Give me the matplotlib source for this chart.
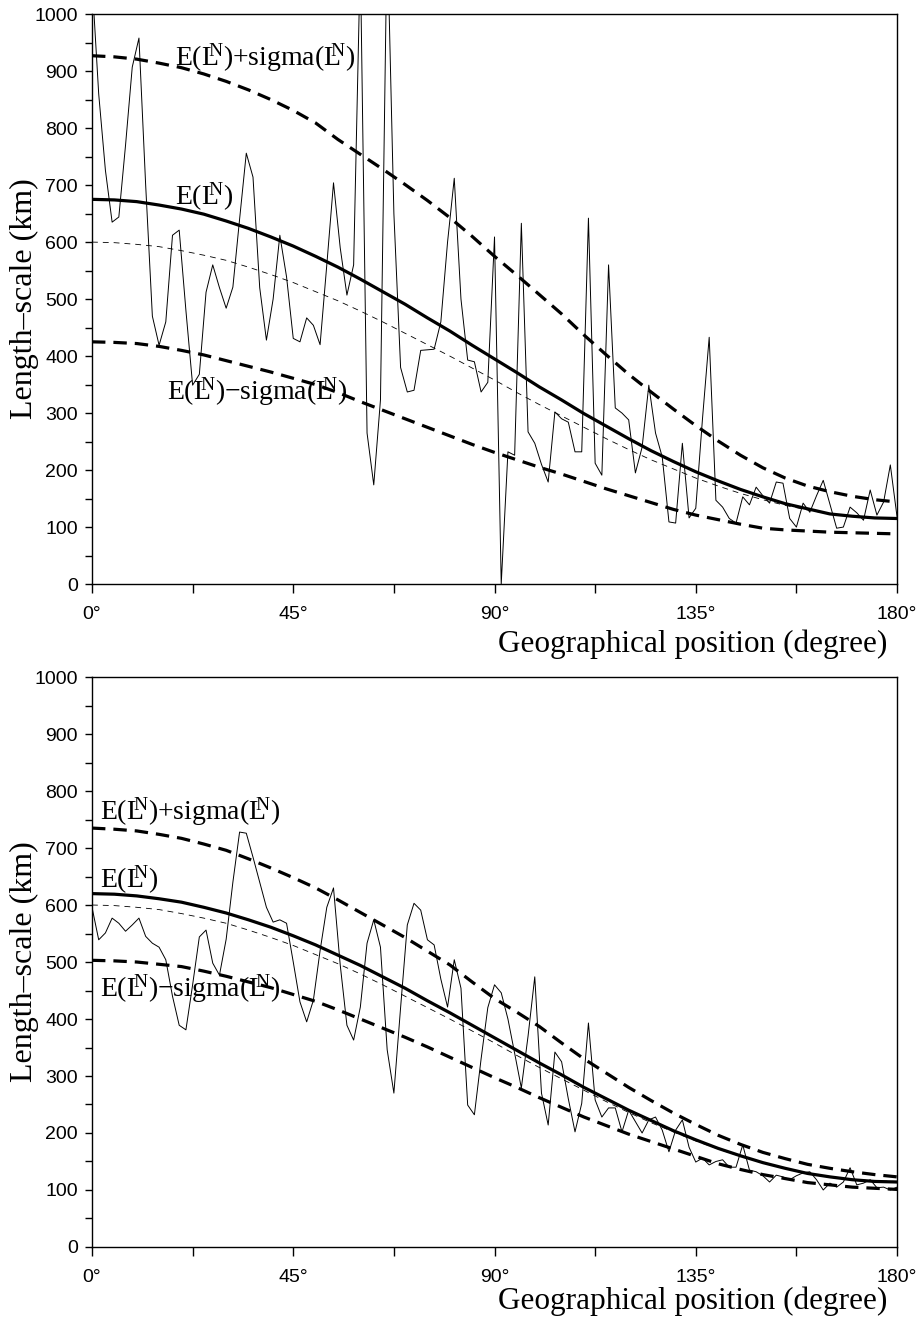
import numpy as np
import matplotlib
matplotlib.use('Agg')
import matplotlib.pyplot as plt

plt.rcParams['font.family'] = ['Liberation Sans', 'DejaVu Sans']
plt.rcParams['mathtext.fontset'] = 'custom'
plt.rcParams['mathtext.rm'] = 'Liberation Serif'
plt.rcParams['mathtext.it'] = 'Liberation Serif:italic'

# smooth curves, read every 5 degrees
deg_curve = np.arange(0, 181, 5)

top_mean = [675, 674, 671, 665, 658, 649, 637, 624, 609, 593, 575, 556, 535, 513, 491, 467, 444, 419, 395,
            371, 346, 323, 299, 277, 255, 234, 215, 197, 181, 166, 153, 141, 132, 123, 119, 116, 115]
top_upper = [927, 925, 921, 914, 906, 895, 882, 867, 850, 831, 809, 780, 754, 728, 701, 673, 643, 610, 575,
             542, 508, 474, 437, 402, 368, 337, 307, 278, 251, 226, 204, 186, 172, 162, 154, 148, 144]
top_lower = [425, 424, 422, 417, 410, 402, 392, 382, 372, 361, 350, 336, 320, 305, 290, 275, 260, 245, 231,
             218, 205, 193, 180, 167, 155, 143, 131, 121, 113, 105, 98, 95, 93, 91, 90, 89, 88]
top_true = [600, 599, 596, 592, 585, 577, 568, 556, 543, 529, 513, 497, 479, 460, 440, 420, 400, 379, 358,
            336, 315, 295, 275, 255, 236, 218, 202, 186, 172, 159, 148, 138, 130, 123, 119, 116, 115]

bot_mean = [620, 619, 616, 611, 605, 596, 586, 574, 561, 546, 530, 512, 494, 474, 454, 432, 411, 389, 367,
            345, 323, 302, 280, 260, 240, 222, 204, 188, 173, 160, 148, 138, 129, 123, 118, 115, 114]
bot_upper = [735, 733, 730, 724, 717, 707, 696, 681, 665, 648, 630, 609, 587, 565, 543, 519, 495, 465, 436,
             412, 387, 358, 330, 305, 280, 257, 235, 215, 196, 180, 166, 155, 145, 138, 132, 127, 123]
bot_lower = [503, 502, 500, 496, 492, 484, 475, 465, 455, 443, 431, 416, 400, 384, 368, 351, 333, 315, 297,
             280, 262, 245, 228, 213, 198, 185, 172, 159, 146, 136, 127, 120, 113, 109, 105, 103, 101]
bot_true = top_true

# noisy estimates, one value every 1.5 degrees
deg_noisy = np.arange(0, 180.1, 1.5)

top_noisy = [1060, 860, 726, 635, 644, 770, 907, 958, 700, 470,
             419, 460, 612, 621, 480, 349, 368, 512, 560, 520,
             484, 521, 640, 756, 714, 520, 428, 500, 612, 539,
             431, 425, 467, 454, 420, 560, 704, 590, 507, 560,
             1100, 265, 174, 323, 1150, 650, 380, 337, 340, 410,
             411, 412, 460, 600, 712, 500, 393, 390, 337, 354,
             609, 0, 232, 226, 633, 267, 247, 210, 179, 302,
             290, 284, 232, 232, 642, 212, 191, 560, 309, 300,
             288, 195, 240, 349, 265, 223, 109, 107, 247, 116,
             133, 290, 433, 147, 135, 115, 107, 153, 139, 170,
             155, 142, 179, 177, 115, 100, 142, 126, 155, 182,
             140, 98, 100, 135, 125, 112, 165, 121, 144, 209,
             118]

bot_noisy = [596, 539, 551, 577, 568, 554, 565, 577, 545, 533,
             526, 504, 440, 389, 381, 460, 544, 556, 498, 477,
             540, 640, 728, 726, 684, 640, 596, 570, 574, 568,
             500, 430, 395, 433, 520, 596, 630, 495, 389, 363,
             421, 533, 574, 526, 346, 270, 420, 565, 603, 591,
             539, 530, 470, 421, 504, 454, 249, 232, 330, 420,
             460, 446, 400, 340, 279, 370, 474, 270, 214, 342,
             325, 260, 202, 252, 393, 258, 228, 244, 244, 202,
             240, 220, 200, 223, 228, 205, 167, 205, 223, 175,
             149, 156, 144, 150, 153, 140, 140, 179, 135, 132,
             125, 114, 126, 123, 118, 125, 130, 132, 118, 100,
             112, 105, 114, 139, 109, 112, 118, 104, 105, 100,
             105]

xticks = [0, 45, 90, 135, 180]
xtick_labels = ['0°', '45°', '90°', '135°', '180°']

sup = r'L$\!\!\!^{\mathrm{N}}$)'
lab_up = 'E(' + sup + '+sigma(' + sup
lab_mean = 'E(' + sup
lab_low = 'E(' + sup + '\u2212sigma(' + sup

fig = plt.figure(figsize=(9.19, 13.19), dpi=100)
ax1 = fig.add_axes([0.1001, 0.5572, 0.876, 0.4321])
ax2 = fig.add_axes([0.1001, 0.0546, 0.876, 0.4321])

panels = [
    (ax1, top_mean, top_upper, top_lower, top_true, top_noisy,
     [(18.6, 909, lab_up), (18.6, 665, lab_mean), (16.8, 323, lab_low)], 0.5225),
    (ax2, bot_mean, bot_upper, bot_lower, bot_true, bot_noisy,
     [(1.8, 749, lab_up), (1.8, 631, lab_mean), (1.8, 439, lab_low)], 0.0250),
]

for ax, mean, upper, lower, true, noisy, labels, xl_y in panels:
    ax.plot(deg_noisy, noisy, color='black', lw=0.7)
    ax.plot(deg_curve, true, color='black', lw=0.6, dashes=(7, 6))
    ax.plot(deg_curve, upper, color='black', lw=2.3, dashes=(4.2, 2.5))
    ax.plot(deg_curve, lower, color='black', lw=2.3, dashes=(4.2, 2.5))
    ax.plot(deg_curve, mean, color='black', lw=2.3, solid_capstyle='butt')

    ax.set_xlim(0, 180)
    ax.set_ylim(0, 1000)
    ax.set_xticks(xticks)
    ax.set_xticklabels(xtick_labels)
    ax.set_xticks([22.5, 67.5, 112.5, 157.5], minor=True)
    ax.set_yticks(range(0, 1001, 100))
    ax.set_yticks(range(50, 1000, 100), minor=True)
    ax.tick_params(which='both', direction='out', width=1.0,
                   labelsize=14, top=False, right=False)
    ax.tick_params(axis='x', which='both', length=6.5, pad=9)
    ax.tick_params(axis='y', which='both', length=5, pad=5)
    for s in ax.spines.values():
        s.set_linewidth(1.0)

    for x, y, t in labels:
        ax.text(x, y, t, fontsize=20, family='Liberation Serif', va='baseline', ha='left')

    ax.set_ylabel('Length\u2013scale (km)', fontsize=23, family='Liberation Serif')
    ax.yaxis.set_label_coords(-0.066, 0.5)
    fig.text(0.966, xl_y, 'Geographical position (degree)', fontsize=22.5,
             family='Liberation Serif', ha='right', va='top')

fig.savefig('out.png', dpi=100)
